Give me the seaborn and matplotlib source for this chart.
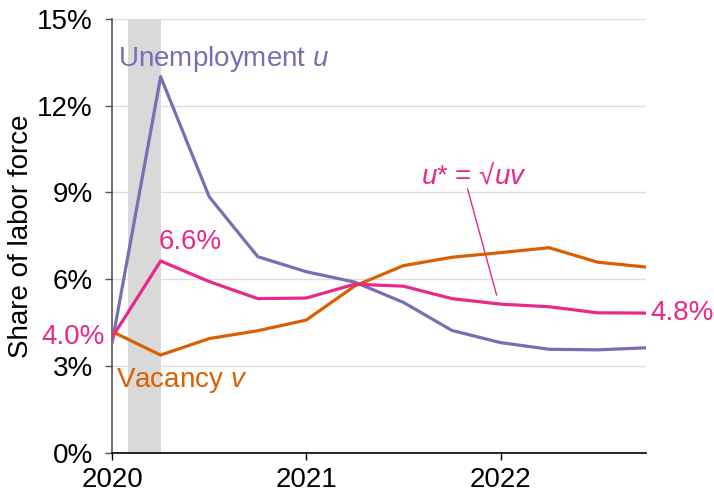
import numpy as np
import pandas as pd
import matplotlib
matplotlib.use("Agg")
import matplotlib.pyplot as plt
import seaborn as sns

# quarterly values, 2020Q1 .. 2022Q4 (share of labor force, %)
quarters = [2020.0, 2020.25, 2020.5, 2020.75, 2021.0, 2021.25,
            2021.5, 2021.75, 2022.0, 2022.25, 2022.5, 2022.75]
unemployment = [3.8, 13.0, 8.85, 6.78, 6.26, 5.9, 5.2, 4.23, 3.81, 3.58, 3.56, 3.63]
vacancy = [4.19, 3.38, 3.95, 4.22, 4.59, 5.77, 6.47, 6.76, 6.92, 7.09, 6.59, 6.42]
u_star = [3.99, 6.63, 5.92, 5.33, 5.35, 5.83, 5.76, 5.33, 5.14, 5.05, 4.84, 4.83]
recession = (2020.083, 2020.25)

df = pd.DataFrame({
    'quarter': quarters * 3,
    'value': unemployment + vacancy + u_star,
    'series': ['u'] * 12 + ['v'] * 12 + ['ustar'] * 12,
})
colors = {'u': '#7570b3', 'v': '#d95f02', 'ustar': '#e7298a'}

sns.set_theme(style='white')
plt.rcParams['font.family'] = ['Liberation Sans', 'DejaVu Sans']
plt.rcParams['mathtext.fontset'] = 'custom'
plt.rcParams['mathtext.it'] = 'Liberation Sans:italic'
plt.rcParams['mathtext.rm'] = 'Liberation Sans'

fig = plt.figure(figsize=(7.14, 4.96), dpi=100)
ax = fig.add_axes([0.157, 0.087, 0.748, 0.875])

ax.axvspan(*recession, color='#d9d9d9', lw=0, zorder=0)
for yv in [3, 6, 9, 12, 15]:
    ax.axhline(yv, color='#dddddd', lw=1, zorder=0.5)

sns.lineplot(data=df, x='quarter', y='value', hue='series', palette=colors,
             linewidth=2.3, legend=False, ax=ax, zorder=3)

ax.set_xlim(2020, 2022.75)
ax.set_ylim(0, 15)
ax.set_xticks([2020, 2021, 2022])
ax.set_xticklabels(['2020', '2021', '2022'])
ax.set_yticks([0, 3, 6, 9, 12, 15])
ax.set_yticklabels([f'{t}%' for t in [0, 3, 6, 9, 12, 15]])
ax.tick_params(axis='both', labelsize=20, colors='black', direction='out',
               length=5, width=1, left=True, bottom=True)
ax.tick_params(axis='y', color='#555555', pad=9)
ax.tick_params(axis='x', pad=5)
ax.set_xlabel('')
ax.set_ylabel('Share of labor force', fontsize=20, labelpad=2, color='black')
for s in ['top', 'right']:
    ax.spines[s].set_visible(False)
ax.spines['left'].set_color('#555555')
ax.spines['bottom'].set_color('black')
ax.spines['left'].set_linewidth(1.2)
ax.spines['bottom'].set_linewidth(1.2)

ax.text(2020.03, 13.6, 'Unemployment $u$', color=colors['u'], fontsize=20,
        va='center', ha='left')
ax.text(2020.24, 7.3, '6.6%', color=colors['ustar'], fontsize=20,
        va='center', ha='left')
ax.text(2019.96, 4.0, '4.0%', color=colors['ustar'], fontsize=20,
        va='center', ha='right', clip_on=False)
ax.text(2020.02, 2.5, 'Vacancy $v$', color=colors['v'], fontsize=20,
        va='center', ha='left')
ax.text(2021.59, 9.55, '$u$* = √$uv$', color=colors['ustar'], fontsize=20,
        va='center', ha='left')
ax.plot([2021.83, 2021.98], [9.13, 5.45], color=colors['ustar'], lw=1)
ax.text(2022.77, 4.83, '4.8%', color=colors['ustar'], fontsize=20,
        va='center', ha='left', clip_on=False)

fig.savefig('out.png', dpi=100)
